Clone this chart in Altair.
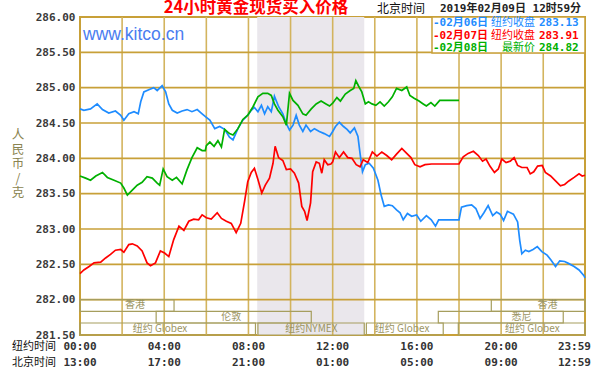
import altair as alt
import pandas as pd

# ---------------- data (time = minutes after 00:00 New York time) ----------------
blue_t = [0, 11, 30, 49, 64, 82, 101, 116, 125, 139, 154, 166, 173, 182, 196, 210, 220, 234, 244, 253,
          263, 277, 291, 305, 319, 334, 348, 360, 370, 384, 398, 412, 426, 436, 450, 464, 478, 488, 497, 507,
          517, 526, 535, 545, 554, 566, 578, 588, 597, 607, 616, 625, 635, 644, 657, 668, 682, 696, 711, 720,
          728, 739, 751, 761, 770, 782, 792, 798, 805, 813, 824, 836, 849, 858, 867, 879, 890, 902, 912, 921,
          933, 945, 959, 971, 987, 1001, 1013, 1022, 1080, 1087, 1102, 1116, 1128, 1140, 1151, 1163, 1176, 1187, 1197, 1207,
          1218, 1235, 1247, 1253, 1259, 1269, 1279, 1291, 1303, 1316, 1331, 1342, 1355, 1367, 1381, 1393, 1408, 1422, 1436, 1439]
blue_v = [284.70, 284.68, 284.70, 284.77, 284.69, 284.64, 284.67, 284.61, 284.54, 284.63,
          284.66, 284.63, 284.80, 284.94, 284.97, 285.00, 284.96, 285.03, 284.94, 284.77,
          284.68, 284.64, 284.67, 284.69, 284.66, 284.69, 284.63, 284.58, 284.54, 284.42,
          284.45, 284.41, 284.30, 284.26, 284.42, 284.54, 284.61, 284.68, 284.72, 284.66,
          284.75, 284.63, 284.73, 284.66, 284.88, 284.73, 284.63, 284.49, 284.40, 284.47,
          284.61, 284.47, 284.38, 284.47, 284.38, 284.42, 284.38, 284.35, 284.31, 284.38,
          284.45, 284.51, 284.45, 284.41, 284.36, 284.43, 284.31, 284.07, 283.81, 283.91,
          283.93, 283.86, 283.69, 283.48, 283.32, 283.34, 283.33, 283.27, 283.23, 283.13,
          283.22, 283.18, 283.20, 283.11, 283.19, 283.13, 283.04, 283.13, 283.13, 283.31,
          283.33, 283.34, 283.29, 283.15, 283.23, 283.33, 283.19, 283.24, 283.21, 283.12,
          283.25, 283.21, 283.10, 282.84, 282.65, 282.70, 282.68, 282.71, 282.75, 282.68,
          282.63, 282.56, 282.47, 282.55, 282.54, 282.51, 282.47, 282.42, 282.34, 282.31]

red_t = [0, 11, 26, 40, 59, 73, 87, 101, 116, 125, 139, 149, 163, 177, 191, 201, 215, 229, 241, 253,
         267, 282, 296, 310, 324, 338, 348, 360, 374, 391, 403, 417, 431, 445, 458, 469, 478, 488, 497, 507,
         518, 528, 540, 550, 556, 566, 578, 588, 600, 611, 623, 632, 640, 647, 657, 663, 673, 682, 689, 696,
         706, 715, 720, 728, 739, 751, 763, 775, 787, 798, 807, 820, 833, 846, 860, 874, 888, 902, 917, 931,
         943, 954, 969, 983, 1002, 1080, 1092, 1106, 1121, 1135, 1147, 1157, 1168, 1181, 1192, 1202, 1214, 1226, 1237, 1247,
         1259, 1274, 1283, 1293, 1304, 1317, 1326, 1341, 1355, 1369, 1381, 1393, 1408, 1422, 1431, 1439]
red_v = [282.37, 282.42, 282.47, 282.52, 282.53, 282.59, 282.64, 282.70, 282.71, 282.67,
         282.78, 282.79, 282.76, 282.69, 282.52, 282.48, 282.52, 282.69, 282.66, 282.61,
         282.85, 283.04, 282.98, 283.11, 283.14, 283.13, 283.20, 283.16, 283.14, 283.23,
         283.15, 283.11, 283.08, 282.95, 283.08, 283.39, 283.67, 283.80, 283.86, 283.70,
         283.51, 283.62, 283.72, 283.93, 284.17, 284.01, 283.97, 283.84, 283.85, 283.79,
         283.65, 283.32, 283.25, 283.12, 283.37, 283.81, 283.95, 283.93, 283.79, 283.98,
         283.91, 283.92, 283.95, 284.09, 284.01, 284.09, 284.01, 284.00, 283.91, 283.88,
         283.98, 283.94, 284.09, 284.03, 284.09, 284.04, 283.98, 284.06, 284.14, 284.07,
         284.01, 283.91, 283.88, 283.91, 283.92, 283.92, 284.02, 284.07, 284.10, 284.04,
         283.96, 283.99, 283.89, 283.80, 283.85, 283.99, 283.94, 283.96, 284.01, 283.90,
         283.87, 283.87, 283.78, 283.81, 283.89, 283.90, 283.80, 283.75, 283.68, 283.61,
         283.63, 283.68, 283.73, 283.78, 283.75, 283.76]

green_t = [0, 16, 30, 45, 64, 78, 97, 116, 125, 135, 149, 163, 177, 191, 206, 220, 227, 237, 248, 263,
           275, 291, 305, 319, 334, 348, 357, 360, 370, 382, 393, 403, 412, 426, 436, 450, 464, 478, 493, 507,
           521, 535, 545, 554, 564, 578, 588, 597, 607, 621, 635, 644, 659, 673, 687, 701, 711, 720, 732, 742,
           756, 770, 780, 786, 794, 803, 813, 822, 832, 843, 855, 867, 879, 890, 902, 917, 931, 940, 952, 966,
           978, 987, 1000, 1011, 1025, 1080]
green_v = [283.75, 283.72, 283.69, 283.75, 283.80, 283.73, 283.69, 283.65, 283.58, 283.48,
           283.55, 283.62, 283.66, 283.74, 283.72, 283.65, 283.62, 283.85, 283.74, 283.69,
           283.73, 283.64, 283.84, 284.01, 284.15, 284.11, 284.11, 284.18, 284.23, 284.17,
           284.25, 284.16, 284.41, 284.35, 284.33, 284.42, 284.55, 284.61, 284.73, 284.87,
           284.92, 284.92, 284.89, 284.77, 284.68, 284.59, 284.47, 284.92, 284.82, 284.75,
           284.63, 284.61, 284.70, 284.77, 284.81, 284.77, 284.74, 284.78, 284.86, 284.81,
           284.91, 284.96, 284.99, 285.10, 285.02, 284.94, 284.77, 284.80, 284.77, 284.75,
           284.80, 284.74, 284.80, 284.87, 284.99, 284.96, 285.01, 284.89, 284.85, 284.81,
           284.77, 284.74, 284.79, 284.74, 284.82, 284.82]

series_names = ["02月06日", "02月07日", "02月08日"]
series_colors = ["#1E8CFF", "#FF0000", "#00B000"]

legend_dates = ["-02月06日", "-02月07日", "-02月08日"]
legend_names = ["纽约收盘", "纽约收盘", "最新价"]
legend_values = ["283.13", "283.91", "284.82"]

y_ticks = [281.5, 282.0, 282.5, 283.0, 283.5, 284.0, 284.5, 285.0, 285.5, 286.0]
y_domain = [281.5, 286.0]
x_domain = [0, 1439]
grid_t = [120, 240, 360, 480, 600, 720, 840, 960, 1080, 1200, 1320]
grid_v = [282.0, 282.5, 283.0, 283.5, 284.0, 284.5, 285.0, 285.5]

tick_t = [0, 240, 480, 720, 960, 1200, 1439]
ny_labels = ["00:00", "04:00", "08:00", "12:00", "16:00", "20:00", "23:59"]
bj_labels = ["13:00", "17:00", "21:00", "01:00", "05:00", "09:00", "12:59"]

shade_start, shade_end = 505, 810

sess_names = ["香港", "伦敦", "纽约 Globex", "纽约NYMEX", "纽约 Globex", "悉尼", "香港", "纽约 Globex"]
sess_start = [0, 217, 0, 507, 816, 1021, 1172, 1078]
sess_end = [268, 659, 500, 810, 1035, 1377, 1439, 1439]
sess_row = [1, 2, 3, 3, 3, 2, 1, 3]
sess_label_t = [157, 431, 228, 659, 918, 1258, 1332, 1289]
row_top = {1: 282.0, 2: 281.835, 3: 281.67}
row_bottom = {1: 281.835, 2: 281.67, 3: 281.5}

# ---------------- build tables ----------------
rows = []
for name, ts, vs in zip(series_names, [blue_t, red_t, green_t], [blue_v, red_v, green_v]):
    for t, v in zip(ts, vs):
        rows.append({"series": name, "t": t, "v": v})
df = pd.DataFrame(rows)

sess_df = pd.DataFrame({
    "name": sess_names, "s": sess_start, "e": sess_end,
    "top": [row_top[r] for r in sess_row], "bot": [row_bottom[r] for r in sess_row],
    "mid": [(row_top[r] + row_bottom[r]) / 2 for r in sess_row], "lt": sess_label_t,
})
tick_df = pd.DataFrame({"t": tick_t, "ny": ny_labels, "bj": bj_labels})

xs = alt.Scale(domain=x_domain, nice=False, zero=False)
ys = alt.Scale(domain=y_domain, nice=False, zero=False)

GOLD_H = "#C8A038"
GOLD_V = "#D3B45E"
OLIVE = "#A69E5E"
MONO = "DejaVu Sans Mono, Noto Sans CJK SC"
CJK = "Noto Sans CJK SC"

yaxis = alt.Axis(values=y_ticks, format=".2f", title=None, grid=False, ticks=False, domain=False,
                 labelFont="DejaVu Sans Mono", labelFontSize=11, labelFontWeight="bold",
                 labelColor="#3A3A3A", labelPadding=5, labelOverlap=False)

shade = alt.Chart(pd.DataFrame({"s": [shade_start], "e": [shade_end],
                                "lo": [y_domain[0]], "hi": [y_domain[1]]})).mark_rect(
    color="#EAE7EC").encode(
    x=alt.X("s:Q", scale=xs, axis=None), x2="e",
    y=alt.Y("lo:Q", scale=ys, axis=yaxis), y2="hi")

vgrid = alt.Chart(pd.DataFrame({"t": grid_t})).mark_rule(color=GOLD_V, strokeWidth=1.6).encode(
    x=alt.X("t:Q", scale=xs, axis=None))
hgrid = alt.Chart(pd.DataFrame({"v": grid_v})).mark_rule(color=GOLD_H, strokeWidth=1.6).encode(
    y=alt.Y("v:Q", scale=ys, axis=yaxis))

boxes = alt.Chart(sess_df).mark_rect(fillOpacity=0, stroke=OLIVE, strokeWidth=1.2).encode(
    x=alt.X("s:Q", scale=xs, axis=None), x2="e",
    y=alt.Y("top:Q", scale=ys, axis=yaxis), y2="bot")
box_labels = alt.Chart(sess_df).mark_text(font=CJK, fontSize=10, color="#9A9462").encode(
    x=alt.X("lt:Q", scale=xs, axis=None), y=alt.Y("mid:Q", scale=ys, axis=yaxis), text="name:N")

lines = alt.Chart(df).mark_line(strokeWidth=1.7).encode(
    x=alt.X("t:Q", scale=xs, axis=None),
    y=alt.Y("v:Q", scale=ys, axis=yaxis),
    color=alt.Color("series:N", scale=alt.Scale(domain=series_names, range=series_colors), legend=None),
)


def txt(text, x, y, **kw):
    return alt.Chart(pd.DataFrame({"label": [text]})).mark_text(**kw).encode(
        text="label:N", x=alt.value(x), y=alt.value(y))


legend_box = alt.Chart(pd.DataFrame({"a": [0]})).mark_rect(fill="white", stroke=GOLD_H, strokeWidth=1.5).encode(
    x=alt.value(352), x2=alt.value(505), y=alt.value(0), y2=alt.value(36))

watermark = txt("www.kitco.cn", 3, 22.5, font="Liberation Sans", fontSize=17.5, color="#4A7DF0",
                align="left", baseline="alphabetic")

layers = [shade, vgrid, hgrid, watermark, boxes, box_labels, lines, legend_box]
for i, (d, n, v, c) in enumerate(zip(legend_dates, legend_names, legend_values, series_colors)):
    yy = 6 + i * 12.7
    layers.append(txt(d, 353, yy, font=MONO, fontSize=11, fontWeight="bold", color=c, align="left", baseline="middle"))
    layers.append(txt(n, 455, yy, font=CJK, fontSize=11, color=c, align="right", baseline="middle"))
    layers.append(txt(v, 459, yy, font=MONO, fontSize=11, fontWeight="bold", color=c, align="left", baseline="middle"))

ytitle_chars = ["人", "民", "币", "/", "克"]
for i, ch in enumerate(ytitle_chars):
    layers.append(txt(ch, -62, 118 + i * 14.5, font=CJK, fontSize=12.5, color="#8A8450",
                      align="center", baseline="middle"))

layers += [
    txt("24小时黄金现货买入价格", 176, -17, font=CJK, fontSize=16.5, fontWeight="bold", color="#FF0000",
        align="center", baseline="top"),
    txt("北京时间", 297, -8, font=CJK, fontSize=12, color="#111111", align="left", baseline="middle"),
    txt("2019年02月09日 12时59分", 360, -8, font=MONO, fontSize=11, fontWeight="bold", color="#222222",
        align="left", baseline="middle"),
    txt("纽约时间", -68, 330, font=CJK, fontSize=11, color="#111111", align="left", baseline="middle"),
    txt("北京时间", -68, 346, font=CJK, fontSize=11, color="#111111", align="left", baseline="middle"),
]

for field, yy in [("ny", 330), ("bj", 346)]:
    layers.append(alt.Chart(tick_df).transform_filter(alt.datum.t < 1439).mark_text(
        font="DejaVu Sans Mono", fontSize=11, fontWeight="bold", color="#333333", align="center",
        baseline="middle").encode(x=alt.X("t:Q", scale=xs, axis=None), y=alt.value(yy), text=f"{field}:N"))
    layers.append(alt.Chart(tick_df).transform_filter(alt.datum.t >= 1439).mark_text(
        font="DejaVu Sans Mono", fontSize=11, fontWeight="bold", color="#333333", align="right",
        baseline="middle", dx=6).encode(x=alt.X("t:Q", scale=xs, axis=None), y=alt.value(yy), text=f"{field}:N"))

chart = alt.layer(*layers).properties(
    width=505, height=318,
    padding={"left": 80, "top": 17, "right": 15, "bottom": 42},
    autosize=alt.AutoSizeParams(type="none"),
    background="white",
).configure_view(stroke=GOLD_H, strokeWidth=2)

chart.save("out.html", embed_options={"renderer": "svg", "actions": False})
